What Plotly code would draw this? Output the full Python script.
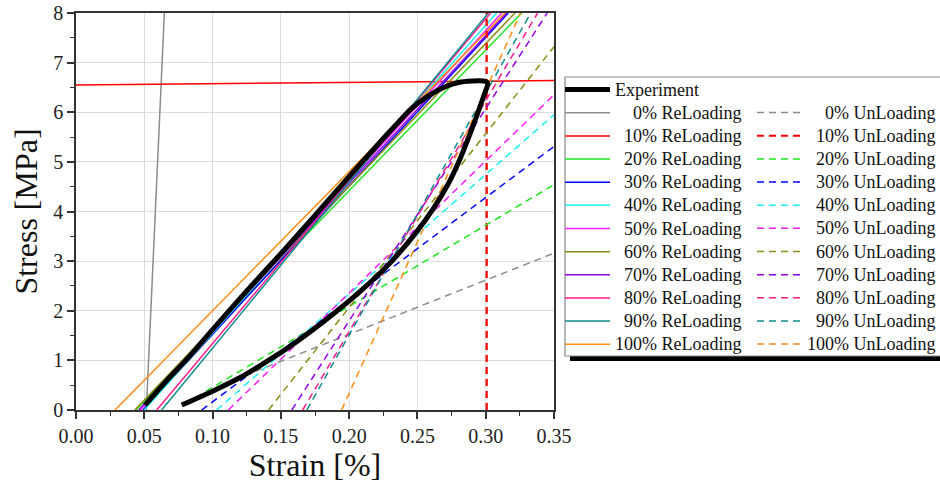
import plotly.graph_objects as go

# ---------------- data ----------------
levels = ["0%", "10%", "20%", "30%", "40%", "50%", "60%", "70%", "80%", "90%", "100%"]
colors = ["#8c8c8c", "#ff0000", "#1ee61e", "#0000ff", "#1ef0f0", "#ff1eff",
          "#8c8c14", "#9400f0", "#ff1a8c", "#0f8c8c", "#ff8c14"]

# Experiment (loading branch, peak, unloading branch)
exp_strain = [0.0505, 0.065, 0.081, 0.100, 0.125, 0.150, 0.175, 0.2043, 0.225, 0.245,
              0.258, 0.270, 0.280, 0.290, 0.2985, 0.3010, 0.3015, 0.2995, 0.295, 0.289,
              0.281, 0.2724, 0.2614, 0.2482, 0.2306, 0.2085, 0.1821, 0.1513, 0.1205, 0.100,
              0.0774]
exp_stress = [0.10, 0.55, 1.02, 1.62, 2.40, 3.15, 3.92, 4.84, 5.47, 6.06,
              6.33, 6.51, 6.60, 6.63, 6.63, 6.60, 6.55, 6.40, 6.05, 5.60,
              5.05, 4.55, 4.05, 3.55, 2.98, 2.40, 1.80, 1.18, 0.66, 0.38,
              0.10]

# ReLoading lines: start / end points
reload_x0 = [0.0515, 0.0, 0.044, 0.049, 0.050, 0.047, 0.043, 0.046, 0.0591, 0.0627, 0.0286]
reload_y0 = [0.0, 6.55, 0.0, 0.0, 0.0, 0.0, 0.0, 0.0, 0.0, 0.0, 0.0]
reload_x1 = [0.0647, 0.35, 0.3263, 0.3165, 0.3080, 0.3117, 0.3214, 0.3153, 0.3036, 0.3019, 0.3141]
reload_y1 = [8.0, 6.64, 8.0, 8.0, 8.0, 8.0, 8.0, 8.0, 8.0, 8.0, 8.0]

# UnLoading lines: start / end points
unload_x0 = [0.115, 0.3007, 0.080, 0.092, 0.103, 0.1115, 0.141, 0.158, 0.166, 0.169, 0.1945]
unload_y0 = [0.60, 0.0, 0.13, 0.0, 0.0, 0.0, 0.0, 0.0, 0.0, 0.0, 0.0]
unload_x1 = [0.35, 0.3007, 0.35, 0.35, 0.35, 0.35, 0.35, 0.345, 0.338, 0.333, 0.3255]
unload_y1 = [3.16, 8.0, 4.54, 5.31, 5.95, 6.35, 7.32, 8.0, 8.0, 8.0, 8.0]

x_ticks = [0.0, 0.05, 0.10, 0.15, 0.20, 0.25, 0.30, 0.35]
y_ticks = [0, 1, 2, 3, 4, 5, 6, 7, 8]

# ---------------- figure ----------------
SERIF = "Liberation Serif"
fig = go.Figure()

def pad(lbl):
    n = 4 - len(lbl)          # '100%' is the longest prefix
    return "\u00a0" * (2 * n) + lbl

def big(txt):
    return '<span style="font-size:18px">' + txt + '</span>'

for i, lvl in enumerate(levels):
    fig.add_trace(go.Scatter(
        x=[reload_x0[i], reload_x1[i]], y=[reload_y0[i], reload_y1[i]],
        mode="lines", line=dict(color=colors[i], width=1.5),
        name=big(pad(lvl) + " ReLoading"), legend="legend", legendrank=10 + i))
for i, lvl in enumerate(levels):
    fig.add_trace(go.Scatter(
        x=[unload_x0[i], unload_x1[i]], y=[unload_y0[i], unload_y1[i]],
        mode="lines",
        line=dict(color=colors[i], width=2.2 if lvl == "10%" else 1.5, dash="7px,5px"),
        name=big(pad(lvl) + " UnLoading"), legend="legend2", legendrank=10 + i))

fig.add_trace(go.Scatter(
    x=exp_strain, y=exp_stress, mode="lines",
    line=dict(color="black", width=5, shape="spline", smoothing=0.5),
    name=big("Experiment"), legend="legend", legendrank=1))

L, R, T, B = 76, 554, 13, 410
W, H = 940, 485
def px2paper_x(px):
    return (px - L) / (R - L)
def px2paper_y(py):
    return (B - py) / (B - T)

legend_font = dict(family=SERIF, size=15.5, color="#111")

fig.update_layout(
    width=W, height=H,
    margin=dict(l=L, r=W - R, t=T, b=H - B, autoexpand=False),
    paper_bgcolor="white", plot_bgcolor="white",
    font=dict(family=SERIF, color="#111"),
    showlegend=True,
    legend=dict(x=px2paper_x(560), y=px2paper_y(73), xanchor="left", yanchor="top",
                bgcolor="rgba(0,0,0,0)", font=legend_font, itemwidth=45,
                traceorder="normal", tracegroupgap=0),
    legend2=dict(x=px2paper_x(752), y=px2paper_y(96), xanchor="left", yanchor="top",
                 bgcolor="rgba(0,0,0,0)", font=legend_font, itemwidth=45,
                 traceorder="normal", tracegroupgap=0),
    xaxis=dict(range=[0, 0.35], tickvals=x_ticks, tickformat=".2f",
               showgrid=True, gridcolor="#dcdcdc", gridwidth=1,
               showline=True, linecolor="#333", linewidth=1.5, mirror=True,
               ticks="outside", ticklen=7, tickwidth=1.5, tickcolor="#333",
               minor=dict(dtick=0.025, ticks="outside", ticklen=4, tickwidth=1.2,
                          tickcolor="#333", showgrid=False),
               tickfont=dict(family=SERIF, size=20, color="#222"),
               title=dict(text="Strain [%]", font=dict(family=SERIF, size=32, color="#111"),
                          standoff=4),
               zeroline=False),
    yaxis=dict(range=[0, 8], tickvals=y_ticks,
               showgrid=True, gridcolor="#dcdcdc", gridwidth=1,
               showline=True, linecolor="#333", linewidth=1.5, mirror=True,
               ticks="outside", ticklen=7, tickwidth=1.5, tickcolor="#333",
               minor=dict(dtick=0.5, ticks="outside", ticklen=4, tickwidth=1.2,
                          tickcolor="#333", showgrid=False),
               tickfont=dict(family=SERIF, size=20, color="#222"),
               title=dict(text="Stress [MPa]", font=dict(family=SERIF, size=32, color="#111"),
                          standoff=6),
               zeroline=False),
    shapes=[
        dict(type="rect", xref="paper", yref="paper", layer="below",
             x0=px2paper_x(570), x1=px2paper_x(945), y0=px2paper_y(361), y1=px2paper_y(82),
             fillcolor="black", line=dict(width=0)),
        dict(type="rect", xref="paper", yref="paper", layer="below",
             x0=px2paper_x(565), x1=px2paper_x(942), y0=px2paper_y(356), y1=px2paper_y(77),
             fillcolor="white", line=dict(color="#888", width=1.2)),
    ],
)

fig.write_html("out.html")
